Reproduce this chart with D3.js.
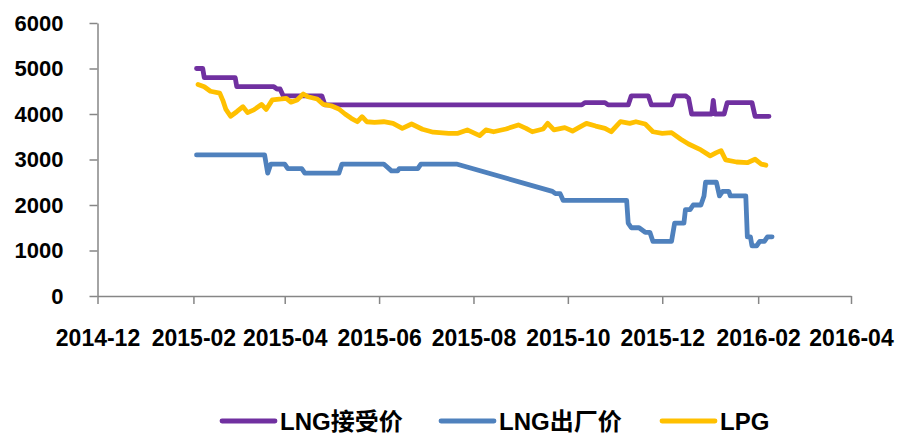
<!DOCTYPE html>
<html>
<head>
<meta charset="utf-8">
<script src="https://cdn.jsdelivr.net/npm/d3@7"></script>
<style>
  body { margin: 0; background: #fff; }
  svg { display: block; }
  text { font-family: "Liberation Sans", Arial, "Noto Sans CJK SC", sans-serif; font-weight: bold; fill: #000; }
</style>
</head>
<body>
<svg width="901" height="435"></svg>
<script>
// DATA
const seriesNames = ["LNG接受价", "LNG出厂价", "LPG"];
const seriesColors = ["#7030A0", "#4F81BD", "#FFC000"];
const yTicks = [0, 1000, 2000, 3000, 4000, 5000, 6000];
const xTickLabels = ["2014-12", "2015-02", "2015-04", "2015-06", "2015-08", "2015-10", "2015-12", "2016-02", "2016-04"];

const lngReceive = [
  ["2015-02-03", 5000], ["2015-02-07", 5000], ["2015-02-08", 4800], ["2015-02-28", 4800],
  ["2015-03-01", 4600], ["2015-03-25", 4600], ["2015-03-27", 4550], ["2015-03-29", 4550],
  ["2015-03-31", 4400], ["2015-04-25", 4400], ["2015-04-27", 4200], ["2015-10-10", 4200],
  ["2015-10-12", 4250], ["2015-10-25", 4250], ["2015-10-27", 4200], ["2015-11-09", 4200],
  ["2015-11-11", 4400], ["2015-11-22", 4400], ["2015-11-24", 4200], ["2015-12-07", 4200],
  ["2015-12-09", 4400], ["2015-12-16", 4400], ["2015-12-18", 4350], ["2015-12-20", 4000],
  ["2016-01-02", 4000], ["2016-01-03", 4300], ["2016-01-04", 4000], ["2016-01-10", 4000],
  ["2016-01-12", 4250], ["2016-01-28", 4250], ["2016-01-30", 3950], ["2016-02-08", 3950]
];

const lngFactory = [
  ["2015-02-03", 3100], ["2015-03-19", 3100], ["2015-03-21", 2700], ["2015-03-23", 2900],
  ["2015-04-01", 2900], ["2015-04-03", 2800], ["2015-04-12", 2800], ["2015-04-14", 2700],
  ["2015-05-06", 2700], ["2015-05-08", 2900], ["2015-06-04", 2900], ["2015-06-09", 2750],
  ["2015-06-13", 2750], ["2015-06-14", 2800], ["2015-06-26", 2800], ["2015-06-28", 2900],
  ["2015-07-21", 2900], ["2015-09-21", 2300], ["2015-09-23", 2250], ["2015-09-26", 2250],
  ["2015-09-28", 2100], ["2015-11-08", 2100], ["2015-11-09", 1600], ["2015-11-11", 1500],
  ["2015-11-16", 1500], ["2015-11-20", 1400], ["2015-11-23", 1400], ["2015-11-25", 1200],
  ["2015-12-07", 1200], ["2015-12-09", 1600], ["2015-12-15", 1600], ["2015-12-16", 1900],
  ["2015-12-19", 1900], ["2015-12-21", 2000], ["2015-12-26", 2000], ["2015-12-28", 2200],
  ["2015-12-29", 2500], ["2016-01-05", 2500], ["2016-01-07", 2200], ["2016-01-09", 2300],
  ["2016-01-13", 2300], ["2016-01-14", 2200], ["2016-01-24", 2200], ["2016-01-25", 1300],
  ["2016-01-27", 1300], ["2016-01-28", 1100], ["2016-01-31", 1100], ["2016-02-02", 1200],
  ["2016-02-05", 1200], ["2016-02-07", 1300], ["2016-02-10", 1300]
];

const lpg = [
  ["2015-02-04", 4650], ["2015-02-08", 4600], ["2015-02-12", 4500], ["2015-02-18", 4460],
  ["2015-02-20", 4300], ["2015-02-22", 4100], ["2015-02-25", 3950], ["2015-03-01", 4050],
  ["2015-03-05", 4160], ["2015-03-08", 4030], ["2015-03-12", 4090], ["2015-03-17", 4210],
  ["2015-03-20", 4100], ["2015-03-24", 4310], ["2015-03-30", 4330], ["2015-04-02", 4345],
  ["2015-04-05", 4260], ["2015-04-09", 4310], ["2015-04-13", 4440], ["2015-04-16", 4380],
  ["2015-04-22", 4330], ["2015-04-26", 4210], ["2015-05-01", 4180], ["2015-05-06", 4110],
  ["2015-05-10", 4000], ["2015-05-14", 3905], ["2015-05-18", 3830], ["2015-05-21", 3940],
  ["2015-05-24", 3830], ["2015-05-29", 3815], ["2015-06-04", 3830], ["2015-06-10", 3795],
  ["2015-06-16", 3685], ["2015-06-22", 3780], ["2015-06-29", 3665], ["2015-07-06", 3600],
  ["2015-07-16", 3575], ["2015-07-22", 3575], ["2015-07-28", 3650], ["2015-08-05", 3525],
  ["2015-08-09", 3650], ["2015-08-14", 3610], ["2015-08-22", 3670], ["2015-08-30", 3760],
  ["2015-09-04", 3685], ["2015-09-08", 3610], ["2015-09-15", 3670], ["2015-09-18", 3795],
  ["2015-09-22", 3650], ["2015-09-29", 3700], ["2015-10-04", 3625], ["2015-10-08", 3700],
  ["2015-10-13", 3795], ["2015-10-19", 3735], ["2015-10-25", 3685], ["2015-10-29", 3610],
  ["2015-11-04", 3830], ["2015-11-10", 3795], ["2015-11-14", 3830], ["2015-11-20", 3780],
  ["2015-11-25", 3610], ["2015-12-01", 3575], ["2015-12-07", 3590], ["2015-12-13", 3445],
  ["2015-12-18", 3340], ["2015-12-26", 3210], ["2016-01-01", 3080], ["2016-01-05", 3150],
  ["2016-01-08", 3195], ["2016-01-11", 2990], ["2016-01-18", 2945], ["2016-01-25", 2930],
  ["2016-01-30", 3005], ["2016-02-03", 2900], ["2016-02-06", 2875]
];

const svg = d3.select("svg");
const parseDay = d3.timeParse("%Y-%m-%d");
const parseMonth = d3.timeParse("%Y-%m");
const axisColor = "#868686";

// SCALES
const x = d3.scaleTime()
  .domain([parseMonth(xTickLabels[0]), parseMonth(xTickLabels[xTickLabels.length - 1])])
  .range([97.5, 851]);

const y = d3.scaleLinear()
  .domain([0, 6000])
  .range([296, 23]);

// AXES
const yAxis = svg.append("g")
  .attr("transform", "translate(97.5,0)")
  .call(d3.axisLeft(y).tickValues(yTicks).tickSize(8).tickSizeOuter(0).tickPadding(26).tickFormat(d3.format("d")));

const xAxis = svg.append("g")
  .attr("transform", "translate(0,296)")
  .call(d3.axisBottom(x)
    .tickValues(xTickLabels.map(parseMonth))
    .tickSize(8).tickSizeOuter(0).tickPadding(26)
    .tickFormat(d3.timeFormat("%Y-%m")));

[yAxis, xAxis].forEach(g => {
  g.select(".domain").attr("stroke", axisColor).attr("stroke-width", 1.5);
  g.selectAll(".tick line").attr("stroke", axisColor).attr("stroke-width", 1.5);
  g.selectAll(".tick text").attr("fill", "#000").attr("font-family", null);
});
yAxis.selectAll(".tick text").attr("font-size", "22px");
xAxis.selectAll(".tick text").attr("font-size", "23px");

// LINES
const line = d3.line()
  .x(d => x(parseDay(d[0])))
  .y(d => y(d[1]));

const allSeries = [lngReceive, lngFactory, lpg];

svg.selectAll("path.series")
  .data(allSeries)
  .enter()
  .append("path")
  .attr("class", "series")
  .attr("fill", "none")
  .attr("stroke", (d, i) => seriesColors[i])
  .attr("stroke-width", 4.8)
  .attr("stroke-linejoin", "round")
  .attr("stroke-linecap", "round")
  .attr("d", line);

// LEGEND
const legendX = [222, 441, 662];
const legend = svg.selectAll("g.legend")
  .data(seriesNames)
  .enter()
  .append("g")
  .attr("class", "legend")
  .attr("transform", (d, i) => `translate(${legendX[i]}, 421)`);

legend.append("line")
  .attr("x1", 0)
  .attr("x2", 53)
  .attr("stroke", (d, i) => seriesColors[i])
  .attr("stroke-width", 4.8)
  .attr("stroke-linecap", "round");

legend.append("text")
  .attr("x", 58)
  .attr("y", 8.5)
  .attr("font-size", "24px")
  .text(d => d);
</script>
</body>
</html>
